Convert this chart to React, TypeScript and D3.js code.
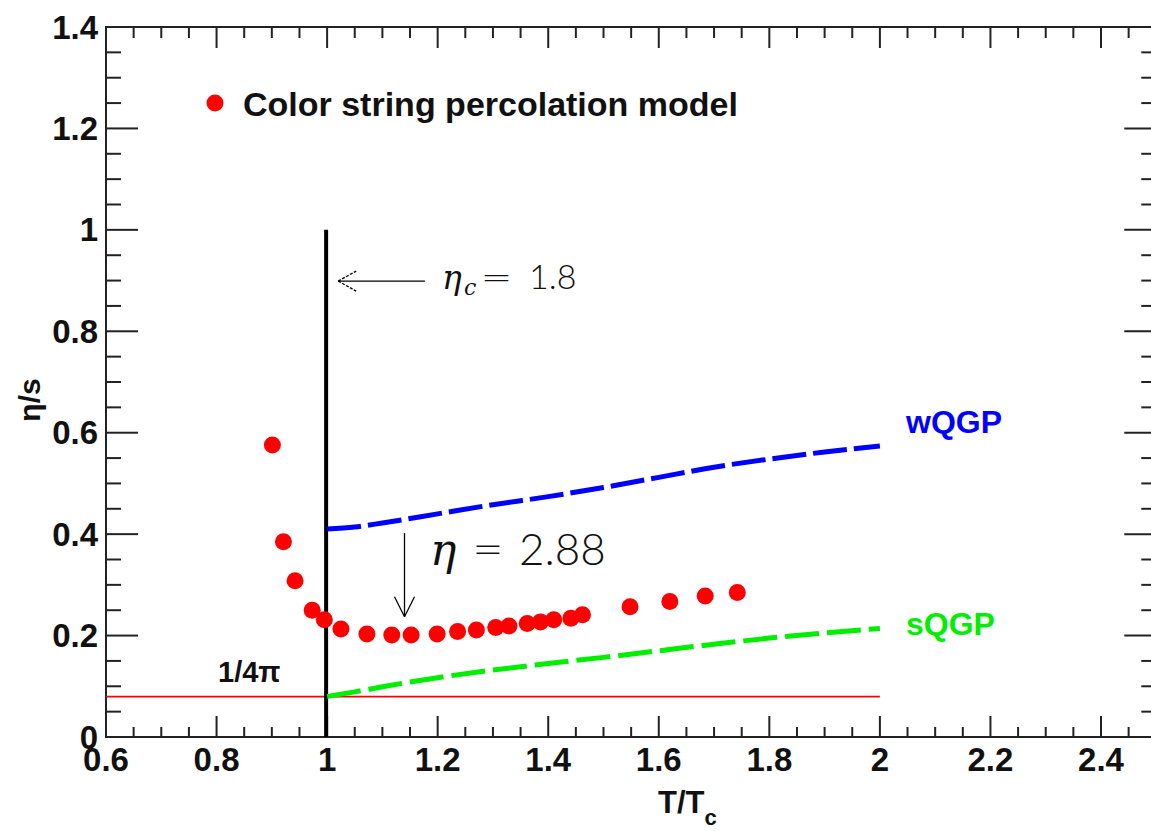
import React from "react";
import * as d3 from "d3";

const W = 1151;
const H = 831;

// Color string percolation model points [T/Tc, eta/s]
const cspmX = [0.901, 0.921, 0.942, 0.973, 0.995, 1.025, 1.072, 1.117, 1.152, 1.199, 1.236, 1.27, 1.305, 1.329, 1.362, 1.386, 1.41, 1.441, 1.462, 1.548, 1.62, 1.684, 1.742];
const cspmY = [0.576, 0.385, 0.308, 0.25, 0.231, 0.213, 0.203, 0.201, 0.201, 0.203, 0.208, 0.211, 0.216, 0.219, 0.224, 0.227, 0.231, 0.234, 0.241, 0.257, 0.267, 0.278, 0.285];

// wQGP curve
const wqgpX = [1.0, 1.05, 1.1, 1.2, 1.3, 1.4, 1.5, 1.6, 1.7, 1.8, 1.9, 2.0];
const wqgpY = [0.41, 0.414, 0.422, 0.44, 0.458, 0.474, 0.492, 0.512, 0.532, 0.548, 0.562, 0.574];

// sQGP curve
const sqgpX = [1.0, 1.05, 1.1, 1.2, 1.3, 1.4, 1.5, 1.6, 1.7, 1.8, 1.9, 2.0];
const sqgpY = [0.08, 0.089, 0.099, 0.117, 0.132, 0.145, 0.157, 0.17, 0.183, 0.195, 0.205, 0.214];

const xTickLabels = ["0.6", "0.8", "1", "1.2", "1.4", "1.6", "1.8", "2", "2.2", "2.4"];
const yTickLabels = ["0", "0.2", "0.4", "0.6", "0.8", "1", "1.2", "1.4"];

const KSS = 1 / (4 * Math.PI);

export default function App() {
  const x = d3.scaleLinear().domain([0.6, 2.4]).range([106, 1101]);
  const y = d3.scaleLinear().domain([0, 1.4]).range([737, 27]);
  const x0 = x(0.6), x1 = x(2.5), y0 = y(0), y1 = y(1.4);

  const line = d3.line<[number, number]>().x(d => x(d[0])).y(d => y(d[1])).curve(d3.curveMonotoneX);
  const wq = wqgpX.map((v, i) => [v, wqgpY[i]] as [number, number]);
  const sq = sqgpX.map((v, i) => [v, sqgpY[i]] as [number, number]);

  const minorX = d3.range(0, 39).map(i => 0.6 + i * 0.05);
  const minorY = d3.range(0, 29).map(i => i * 0.05);
  const isMajor = (v: number, base: number) => Math.abs(Math.round((v - base) / 0.2) * 0.2 - (v - base)) < 1e-6;

  const font = "'Liberation Sans', Arial, Helvetica, sans-serif";
  const latexFont = "Lato, 'DejaVu Sans', sans-serif";
  const serif = "'DejaVu Serif', serif";
  const axisCol = "#222";

  // annotation arrows (data coords)
  const hA = { xs: 1.177, xe: 1.02, y: 0.899 };
  const vA = { x: 1.14, ys: 0.402, ye: 0.237 };

  return (
    <svg width={W} height={H} style={{ position: "absolute", left: 0, top: 0, background: "#fff" }}>
      <rect x={0} y={0} width={W} height={H} fill="#fff" />
      {/* frame */}
      <rect x={x0} y={y1} width={x1 - x0} height={y0 - y1} fill="none" stroke={axisCol} strokeWidth={2} />
      {/* x ticks */}
      {minorX.map((v, i) => {
        const maj = isMajor(v, 0.6);
        const px = x(v);
        return (
          <g key={"xt" + i}>
            <line x1={px} x2={px} y1={y0} y2={y0 - (maj ? 21 : 10)} stroke={axisCol} strokeWidth={2} />
            <line x1={px} x2={px} y1={y1} y2={y1 + (maj ? 21 : 11)} stroke={axisCol} strokeWidth={2} />
          </g>
        );
      })}
      {/* y ticks */}
      {minorY.map((v, i) => {
        const maj = isMajor(v, 0);
        const py = y(v);
        return (
          <g key={"yt" + i}>
            <line x1={x0} x2={x0 + (maj ? 32 : 15)} y1={py} y2={py} stroke={axisCol} strokeWidth={2} />
            <line x1={x1} x2={x1 - (maj ? 32 : 15)} y1={py} y2={py} stroke={axisCol} strokeWidth={2} />
          </g>
        );
      })}
      {/* x tick labels */}
      {xTickLabels.map((t, i) => (
        <text key={"xl" + i} x={x(+t)} y={771} textAnchor="middle" fontFamily={font} fontWeight="bold" fontSize={33} fill="#111">
          {t}
        </text>
      ))}
      {/* y tick labels */}
      {yTickLabels.map((t, i) => (
        <text key={"yl" + i} x={98} y={y(+t) + 11.5} textAnchor="end" fontFamily={font} fontWeight="bold" fontSize={33} fill="#111">
          {t}
        </text>
      ))}
      {/* axis titles */}
      <text x={658} y={813} fontFamily={font} fontWeight="bold" fontSize={31} fill="#111">
        T/T<tspan fontSize={22} dy={12}>c</tspan>
      </text>
      <text transform={`translate(40,400) rotate(-90)`} textAnchor="middle" fontFamily={font} fontWeight="bold" fontSize={30} fill="#111">
        η/s
      </text>

      {/* KSS bound */}
      <line x1={x0} x2={x(2.0)} y1={y(KSS)} y2={y(KSS)} stroke="#ff0000" strokeWidth={1.6} />
      <text x={218} y={682} fontFamily={font} fontWeight="bold" fontSize={29} fill="#111">
        1/4π
      </text>

      {/* Tc line */}
      <line x1={x(1.0) - 1} x2={x(1.0) - 1} y1={y(0)} y2={y(1.0)} stroke="#000" strokeWidth={4} />

      {/* wQGP / sQGP dashed */}
      <path d={line(wq) || ""} fill="none" stroke="#0000ff" strokeWidth={5} strokeDasharray="34 7" />
      <path d={line(sq) || ""} fill="none" stroke="#00ee00" strokeWidth={5} strokeDasharray="34 8" />
      <text x={906} y={433} fontFamily={font} fontWeight="bold" fontSize={32} fill="#0000ff">wQGP</text>
      <text x={906} y={635} fontFamily={font} fontWeight="bold" fontSize={32} fill="#00ee00">sQGP</text>

      {/* data points */}
      {cspmX.map((v, i) => (
        <circle key={"p" + i} cx={x(v)} cy={y(cspmY[i])} r={8.5} fill="#ff0000" />
      ))}

      {/* legend */}
      <circle cx={215} cy={103} r={8.5} fill="#ff0000" />
      <text x={243} y={116} fontFamily={font} fontWeight="bold" fontSize={34} fill="#111">
        Color string percolation model
      </text>

      {/* horizontal arrow eta_c */}
      <g stroke="#000" strokeWidth={1.3} fill="none">
        <line x1={x(hA.xs)} x2={x(hA.xe)} y1={y(hA.y)} y2={y(hA.y)} />
        <line x1={x(hA.xe)} y1={y(hA.y)} x2={x(hA.xe) + 18} y2={y(hA.y) - 10} strokeDasharray="3 1.5" />
        <line x1={x(hA.xe)} y1={y(hA.y)} x2={x(hA.xe) + 18} y2={y(hA.y) + 10} strokeDasharray="3 1.5" />
      </g>
      <text y={289} fill="#111">
        <tspan x={442} fontFamily={serif} fontStyle="italic" fontSize={33}>η</tspan>
        <tspan x={464} dy={6} fontFamily={serif} fontStyle="italic" fontSize={22}>c</tspan>
      </text>
      <text x={480} y={289} fontSize={34} fill="#111" fontFamily={latexFont} fontWeight={300} textLength={33} lengthAdjust="spacingAndGlyphs">=</text>
      <text x={529} y={289} fontSize={34} fill="#111" fontFamily={latexFont} fontWeight={300}>1.8</text>

      {/* vertical arrow eta */}
      <g stroke="#000" strokeWidth={1.3} fill="none">
        <line x1={x(vA.x)} x2={x(vA.x)} y1={y(vA.ys)} y2={y(vA.ye)} />
        <line x1={x(vA.x)} y1={y(vA.ye)} x2={x(vA.x) - 10} y2={y(vA.ye) - 20} />
        <line x1={x(vA.x)} y1={y(vA.ye)} x2={x(vA.x) + 10} y2={y(vA.ye) + -20} />
      </g>
      <text x={430} y={565} fill="#111" fontFamily={serif} fontStyle="italic" fontSize={44}>η</text>
      <text x={472} y={565} fontSize={44} fill="#111" fontFamily={latexFont} fontWeight={300} textLength={32} lengthAdjust="spacingAndGlyphs">=</text>
      <text x={519} y={565} fontSize={44} fill="#111" fontFamily={latexFont} fontWeight={300}>2.88</text>
    </svg>
  );
}
